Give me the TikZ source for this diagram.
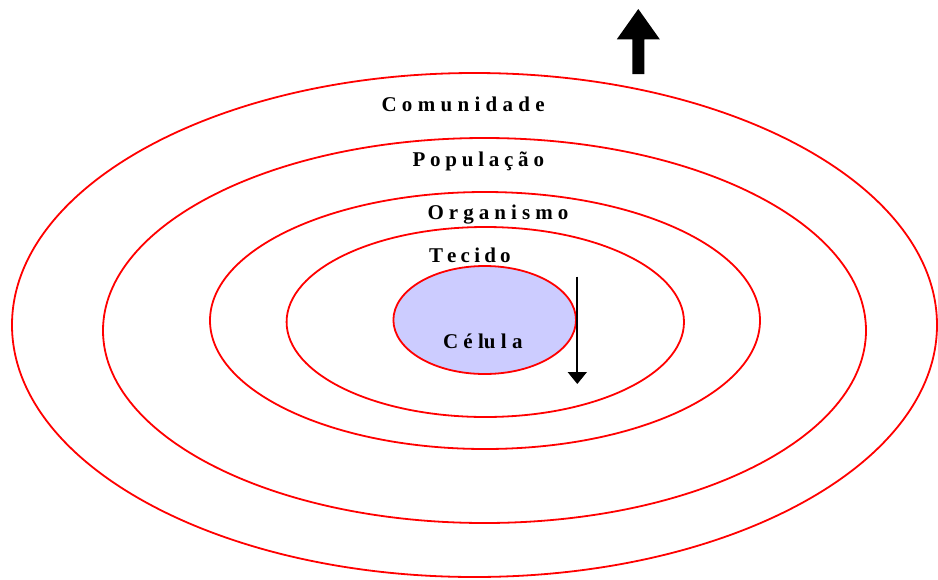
\documentclass[tikz,border=0pt]{standalone}
\usepackage{fontspec}
\setmainfont{Liberation Serif}
\usetikzlibrary{arrows.meta,shapes.geometric}
\definecolor{cellfill}{HTML}{CCCCFF}
\definecolor{ringred}{HTML}{FF0000}
\tikzset{
  ring/.style={ellipse, draw=ringred, line width=1.8pt, inner sep=0pt, outer sep=0pt},
  lbl/.style={anchor=base west, inner sep=0pt, outer sep=0pt, font=\bfseries\fontsize{21}{25}\selectfont},
  downarrow/.style={line width=1.8pt, -{Triangle[width=19pt,length=12pt]}},
  bigarrow/.style={fill=black, draw=none}
}
\begin{document}
\begin{tikzpicture}[x=1pt,y=-1pt]
\useasboundingbox (0,0) rectangle (938,579);
% rings
\node[ring, minimum width=925pt, minimum height=504pt] (comunidade) at (474.5,325) {};
\node[ring, minimum width=763pt, minimum height=385pt] (populacao) at (484.5,330.5) {};
\node[ring, minimum width=550pt, minimum height=257pt] (organismo) at (485,320.5) {};
\node[ring, minimum width=397.4pt, minimum height=190pt] (tecido) at (485.3,322) {};
\node[ring, fill=cellfill, minimum width=182.6pt, minimum height=108pt] (celula) at (484.7,320) {};
% labels
\node[lbl] (tcom) at (381.5,111.5) {\makebox[163.3pt][s]{C o m u n i d a d e}};
\node[lbl] (tpop) at (412.5,166) {\makebox[131.5pt][s]{P o p u l a ç ã o}};
\node[lbl] (torg) at (427.5,219.5) {\makebox[140.8pt][s]{O r g a n i s m o}};
\node[lbl] (ttec) at (429,262.7) {\makebox[81.7pt][s]{T e c i d o}};
\node[lbl] (tcel) at (443,348.3) {\makebox[79.6pt][s]{C é lu l a}};
% down arrow
\coordinate (dtop) at (577.3,276.5);
\coordinate (dbot) at (577.3,384);
\draw[downarrow] (dtop) -- (dbot);
% big up arrow
\coordinate (ub1) at (632.3,74);
\coordinate (ub2) at (632.3,39.3);
\coordinate (ub3) at (616.8,39.3);
\coordinate (utip) at (638.3,9);
\coordinate (ub4) at (659.8,39.3);
\coordinate (ub5) at (644.3,39.3);
\coordinate (ub6) at (644.3,74);
\path[bigarrow] (ub1) -- (ub2) -- (ub3) -- (utip) -- (ub4) -- (ub5) -- (ub6) -- cycle;
\end{tikzpicture}
\end{document}
